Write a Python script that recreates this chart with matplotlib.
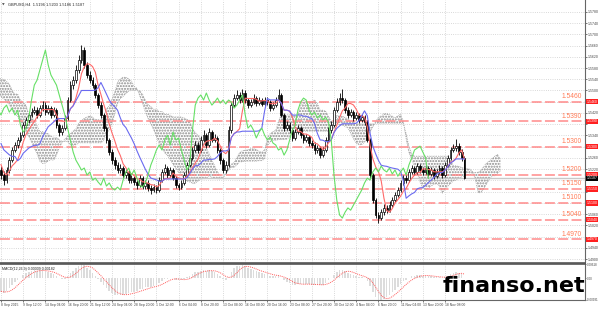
import numpy as np
import pandas as pd
import matplotlib.pyplot as plt

# GBPUSD, one bar every 8 hours
# bars before the left edge, only needed for the indicators
pre_close = [1.5608, 1.5626, 1.5616, 1.5644, 1.5637, 1.5651, 1.5626, 1.5608, 1.5616, 1.5601,
             1.5591, 1.5608, 1.5573, 1.5580, 1.5555, 1.5566, 1.5537, 1.5544, 1.5519, 1.5530,
             1.5509, 1.5494, 1.5502, 1.5484, 1.5466, 1.5448, 1.5473, 1.5430, 1.5437, 1.5413,
             1.5395, 1.5377, 1.5359, 1.5366, 1.5324, 1.5306, 1.5288, 1.5252, 1.5235, 1.5217]

close = [1.5199, 1.5181, 1.5217, 1.5252, 1.5288, 1.5306, 1.5324, 1.5341,
         1.5377, 1.5395, 1.5413, 1.5423, 1.5430, 1.5413, 1.5437, 1.5448,
         1.5423, 1.5437, 1.5413, 1.5430, 1.5377, 1.5352, 1.5366, 1.5402,
         1.5466, 1.5519, 1.5537, 1.5573, 1.5608, 1.5644, 1.5591, 1.5555,
         1.5537, 1.5519, 1.5484, 1.5448, 1.5413, 1.5366, 1.5324, 1.5281,
         1.5252, 1.5235, 1.5217, 1.5224, 1.5199, 1.5210, 1.5181, 1.5188,
         1.5174, 1.5163, 1.5188, 1.5160, 1.5171, 1.5153, 1.5146, 1.5156,
         1.5146, 1.5181, 1.5210, 1.5224, 1.5199, 1.5217, 1.5188, 1.5163,
         1.5156, 1.5171, 1.5199, 1.5235, 1.5260, 1.5288, 1.5306, 1.5288,
         1.5324, 1.5341, 1.5306, 1.5352, 1.5324, 1.5331, 1.5288, 1.5252,
         1.5217, 1.5235, 1.5359, 1.5448, 1.5473, 1.5484, 1.5466, 1.5491,
         1.5466, 1.5448, 1.5459, 1.5473, 1.5455, 1.5466, 1.5452, 1.5466,
         1.5459, 1.5437, 1.5448, 1.5466, 1.5484, 1.5413, 1.5366, 1.5377,
         1.5359, 1.5331, 1.5352, 1.5366, 1.5341, 1.5324, 1.5334, 1.5313,
         1.5306, 1.5288, 1.5295, 1.5270, 1.5288, 1.5324, 1.5359, 1.5377,
         1.5430, 1.5459, 1.5473, 1.5466, 1.5430, 1.5413, 1.5423, 1.5402,
         1.5413, 1.5395, 1.5405, 1.5388, 1.5324, 1.5199, 1.5110, 1.5057,
         1.5046, 1.5067, 1.5082, 1.5074, 1.5092, 1.5110, 1.5128, 1.5146,
         1.5171, 1.5188, 1.5181, 1.5210, 1.5224, 1.5210, 1.5231, 1.5217,
         1.5210, 1.5224, 1.5203, 1.5217, 1.5195, 1.5210, 1.5224, 1.5199,
         1.5235, 1.5260, 1.5288, 1.5295, 1.5302, 1.5281, 1.5260, 1.5187]

high = [1.5230, 1.5212, 1.5228, 1.5262, 1.5298, 1.5318, 1.5335, 1.5352,
        1.5388, 1.5406, 1.5425, 1.5436, 1.5445, 1.5440, 1.5448, 1.5462,
        1.5458, 1.5449, 1.5446, 1.5441, 1.5438, 1.5385, 1.5378, 1.5412,
        1.5478, 1.5532, 1.5552, 1.5590, 1.5625, 1.5662, 1.5655, 1.5600,
        1.5570, 1.5548, 1.5528, 1.5492, 1.5458, 1.5420, 1.5375, 1.5332,
        1.5290, 1.5262, 1.5245, 1.5238, 1.5232, 1.5222, 1.5218, 1.5200,
        1.5196, 1.5182, 1.5198, 1.5195, 1.5182, 1.5180, 1.5162, 1.5166,
        1.5164, 1.5192, 1.5222, 1.5238, 1.5232, 1.5228, 1.5225, 1.5195,
        1.5172, 1.5182, 1.5210, 1.5245, 1.5272, 1.5300, 1.5320, 1.5315,
        1.5338, 1.5360, 1.5350, 1.5365, 1.5360, 1.5345, 1.5338, 1.5295,
        1.5260, 1.5250, 1.5372, 1.5460, 1.5488, 1.5500, 1.5495, 1.5505,
        1.5500, 1.5475, 1.5470, 1.5486, 1.5482, 1.5478, 1.5475, 1.5478,
        1.5476, 1.5466, 1.5460, 1.5478, 1.5505, 1.5490, 1.5420, 1.5390,
        1.5388, 1.5366, 1.5362, 1.5378, 1.5372, 1.5350, 1.5345, 1.5342,
        1.5322, 1.5315, 1.5306, 1.5302, 1.5298, 1.5335, 1.5370, 1.5390,
        1.5442, 1.5472, 1.5490, 1.5505, 1.5475, 1.5440, 1.5435, 1.5432,
        1.5425, 1.5420, 1.5416, 1.5412, 1.5395, 1.5330, 1.5205, 1.5118,
        1.5068, 1.5078, 1.5095, 1.5092, 1.5105, 1.5122, 1.5140, 1.5158,
        1.5182, 1.5200, 1.5198, 1.5222, 1.5236, 1.5232, 1.5242, 1.5240,
        1.5228, 1.5235, 1.5232, 1.5228, 1.5225, 1.5222, 1.5235, 1.5232,
        1.5246, 1.5272, 1.5298, 1.5310, 1.5327, 1.5312, 1.5292, 1.5266]

low = [1.5185, 1.5165, 1.5172, 1.5208, 1.5244, 1.5280, 1.5296, 1.5315,
       1.5333, 1.5368, 1.5385, 1.5404, 1.5415, 1.5402, 1.5405, 1.5428,
       1.5414, 1.5415, 1.5402, 1.5405, 1.5366, 1.5338, 1.5340, 1.5358,
       1.5395, 1.5458, 1.5505, 1.5528, 1.5562, 1.5598, 1.5580, 1.5545,
       1.5525, 1.5508, 1.5475, 1.5438, 1.5402, 1.5355, 1.5312, 1.5270,
       1.5240, 1.5222, 1.5205, 1.5208, 1.5188, 1.5190, 1.5170, 1.5172,
       1.5162, 1.5150, 1.5155, 1.5150, 1.5150, 1.5142, 1.5132, 1.5138,
       1.5135, 1.5140, 1.5175, 1.5202, 1.5190, 1.5192, 1.5180, 1.5152,
       1.5145, 1.5148, 1.5165, 1.5192, 1.5228, 1.5252, 1.5280, 1.5278,
       1.5280, 1.5315, 1.5295, 1.5300, 1.5315, 1.5316, 1.5278, 1.5240,
       1.5205, 1.5208, 1.5228, 1.5350, 1.5440, 1.5465, 1.5455, 1.5460,
       1.5455, 1.5438, 1.5440, 1.5452, 1.5445, 1.5448, 1.5443, 1.5445,
       1.5450, 1.5428, 1.5430, 1.5440, 1.5460, 1.5405, 1.5355, 1.5358,
       1.5348, 1.5320, 1.5325, 1.5345, 1.5332, 1.5312, 1.5315, 1.5302,
       1.5295, 1.5275, 1.5278, 1.5258, 1.5262, 1.5280, 1.5316, 1.5350,
       1.5370, 1.5422, 1.5450, 1.5455, 1.5420, 1.5402, 1.5405, 1.5392,
       1.5395, 1.5385, 1.5388, 1.5378, 1.5315, 1.5190, 1.5098, 1.5045,
       1.5028, 1.5038, 1.5058, 1.5065, 1.5066, 1.5084, 1.5102, 1.5120,
       1.5138, 1.5162, 1.5172, 1.5174, 1.5202, 1.5200, 1.5202, 1.5208,
       1.5200, 1.5202, 1.5195, 1.5196, 1.5186, 1.5188, 1.5202, 1.5190,
       1.5192, 1.5228, 1.5252, 1.5280, 1.5285, 1.5270, 1.5250, 1.5185]

levels = [1.5460, 1.5390, 1.5300, 1.5200, 1.5150, 1.5100, 1.5040, 1.4970]
last_price = 1.5187

date_labels = ["8 Sep 2015", "9 Sep 12:00", "14 Sep 04:00", "16 Sep 20:00", "21 Sep 12:00",
               "24 Sep 04:00", "28 Sep 20:00", "1 Oct 12:00", "6 Oct 04:00", "8 Oct 20:00",
               "13 Oct 08:00", "16 Oct 00:00", "20 Oct 16:00", "23 Oct 08:00", "27 Oct 20:00",
               "30 Oct 12:00", "4 Nov 04:00", "6 Nov 20:00", "11 Nov 04:00", "13 Nov 20:00",
               "18 Nov 08:00"]

# ---- indicators: Ichimoku and MACD, periods halved for 8h bars ----
c_all = np.array(pre_close + close)
h_all = np.array(pre_close + high)
l_all = np.array(pre_close + low)
n_pre = len(pre_close)
pos = np.arange(len(c_all)) - n_pre


def midpoint(n):
    out = np.full(len(c_all), np.nan)
    for i in range(n - 1, len(c_all)):
        out[i] = (h_all[i - n + 1:i + 1].max() + l_all[i - n + 1:i + 1].min()) / 2
    return out


tenkan = midpoint(5)
kijun = midpoint(13)
span_a = (tenkan + kijun) / 2
span_b = midpoint(26)
shift = 13

s = pd.Series(c_all)
macd = (s.ewm(span=6, adjust=False).mean() - s.ewm(span=13, adjust=False).mean()).values
signal = pd.Series(macd).rolling(5).mean().values

# ---- figure ----
fig = plt.figure(figsize=(6, 3.12), dpi=100)
ax = fig.add_axes([0, 0.157, 0.975, 0.843])
ax2 = fig.add_axes([0, 0.0385, 0.975, 0.115], sharex=ax)

x = np.arange(len(close))
c = np.array(close)
o = np.r_[pre_close[-1], c[:-1]]
vis = pos >= 0

# cloud
cx = pos + shift
m = cx >= -1
ax.fill_between(cx[m], span_a[m], span_b[m], facecolor='none', edgecolor='#8a8a8a',
                hatch='......', linewidth=0, zorder=1)
ax.plot(cx[m], span_a[m], color='#9a9a9a', lw=0.5, ls=':', zorder=1)
ax.plot(cx[m], span_b[m], color='#9a9a9a', lw=0.5, ls=':', zorder=1)

# bid line and levels
ax.axhline(last_price, color='#c8c8c8', lw=1.0, zorder=1)
box = dict(boxstyle='square,pad=0.2', ec='none')
for lv in levels:
    ax.axhline(lv, color='#ff8a8a', lw=1.1, ls=(0, (6.5, 2.2)), zorder=2)
    ax.text(0.995, lv + 0.0006, f"{lv:.4f}", transform=ax.get_yaxis_transform(),
            ha='right', va='bottom', fontsize=4.8, color='#ff7a55', family='Liberation Sans')
    ax.text(1.003, lv, f"{lv:.4f}", transform=ax.get_yaxis_transform(), ha='left',
            va='center', fontsize=2.5, color='white', clip_on=False, zorder=6,
            family='Liberation Sans', bbox=dict(box, fc='#ff2020'))
ax.text(1.003, last_price, f"{last_price:.4f}", transform=ax.get_yaxis_transform(), ha='left',
        va='center', fontsize=2.5, color='white', clip_on=False, zorder=6,
        family='Liberation Sans', bbox=dict(box, fc='black'))

# candles
ax.vlines(x, low, high, color='black', lw=0.6, zorder=3)
up = c >= o
ax.bar(x[up], (c - o)[up], bottom=o[up], width=0.62, color='white', edgecolor='black',
       linewidth=0.5, zorder=3)
ax.bar(x[~up], (o - c)[~up], bottom=c[~up], width=0.62, color='black', edgecolor='black',
       linewidth=0.5, zorder=3)

# ichimoku lines
ax.plot(pos[vis], tenkan[vis], color='#ff6a6a', lw=0.8, zorder=4)
ax.plot(pos[vis], kijun[vis], color='#6a6af0', lw=0.8, zorder=4)
ax.plot(pos - shift, c_all, color='#66e066', lw=0.8, zorder=4)

ax.set_xlim(-0.36, 210.45)
ax.set_ylim(1.4886, 1.5822)

date_pos = np.arange(len(date_labels)) * 8
ax.set_xticks(date_pos)
ax.tick_params(axis='x', length=0, labelbottom=False)
yt = np.arange(1.4900, 1.5801, 0.0040)
ax.set_yticks(yt)
marks = levels + [last_price]
ax.set_yticklabels(["" if min(abs(v - lv) for lv in marks) < 0.0013 else f"{v:.4f}"
                    for v in yt], family='Liberation Sans')
ax.yaxis.tick_right()
ax.tick_params(axis='y', labelsize=2.5, length=1.5, width=0.5, colors='#444444', pad=0.8)
ax.grid(True, ls=':', color='#cccccc', lw=0.6)
ax.set_axisbelow(True)
for sp in ['left', 'top']:
    ax.spines[sp].set_visible(False)
ax.spines['right'].set_color('#666666')
ax.spines['bottom'].set_color('#555555')
ax.spines['bottom'].set_linewidth(1.2)

fig.text(0.004, 0.986, "\u25bc", fontsize=2.5, color='#555555', va='center')
fig.text(0.014, 0.986, "GBPUSD,H4  1.5196 1.5203 1.5186 1.5187", fontsize=2.8,
         color='#222222', va='center', family='Liberation Sans')

# MACD panel
hist = macd[vis]
sig = signal[vis]
ax2.bar(x, hist, width=0.55, color='#dcdcdc', zorder=1)
ax2.plot(x, sig, color='#ff5a5a', lw=0.7, ls=(0, (1, 1)), zorder=2)
lo = min(np.nanmin(hist), np.nanmin(sig))
hi = max(np.nanmax(hist), np.nanmax(sig))
ax2.set_ylim(lo, hi)
ax2.set_yticks([hi, 0, lo])
ax2.set_yticklabels([f"{hi:.5f}", "0.00", f"{lo:.5f}"], family='Liberation Sans')
ax2.yaxis.tick_right()
ax2.tick_params(axis='y', labelsize=2.2, length=1.0, width=0.5, colors='#444444', pad=0.5)
ax2.set_xticks(date_pos)
ax2.set_xticklabels(date_labels, ha='left', family='Liberation Sans')
ax2.tick_params(axis='x', labelsize=2.4, length=1.5, width=0.5, colors='#444444', pad=1)
ax2.grid(True, axis='x', ls=':', color='#cccccc', lw=0.6)
ax2.set_axisbelow(True)
ax2.spines['left'].set_visible(False)
ax2.spines['top'].set_color('#555555')
ax2.spines['top'].set_linewidth(1.2)
ax2.spines['right'].set_color('#666666')
ax2.spines['bottom'].set_color('#666666')
ax2.text(0.004, 0.93, "MACD(12,26,9) 0.00009 0.00182", transform=ax2.transAxes, fontsize=2.6,
         color='#222222', va='top', family='Liberation Sans')

fig.text(443 / 600, 1 - 292 / 312, "finanso.net", fontsize=16, fontweight='bold',
         family='DejaVu Sans', color='black', ha='left', va='baseline', zorder=10)

fig.savefig("out.png", dpi=100)
